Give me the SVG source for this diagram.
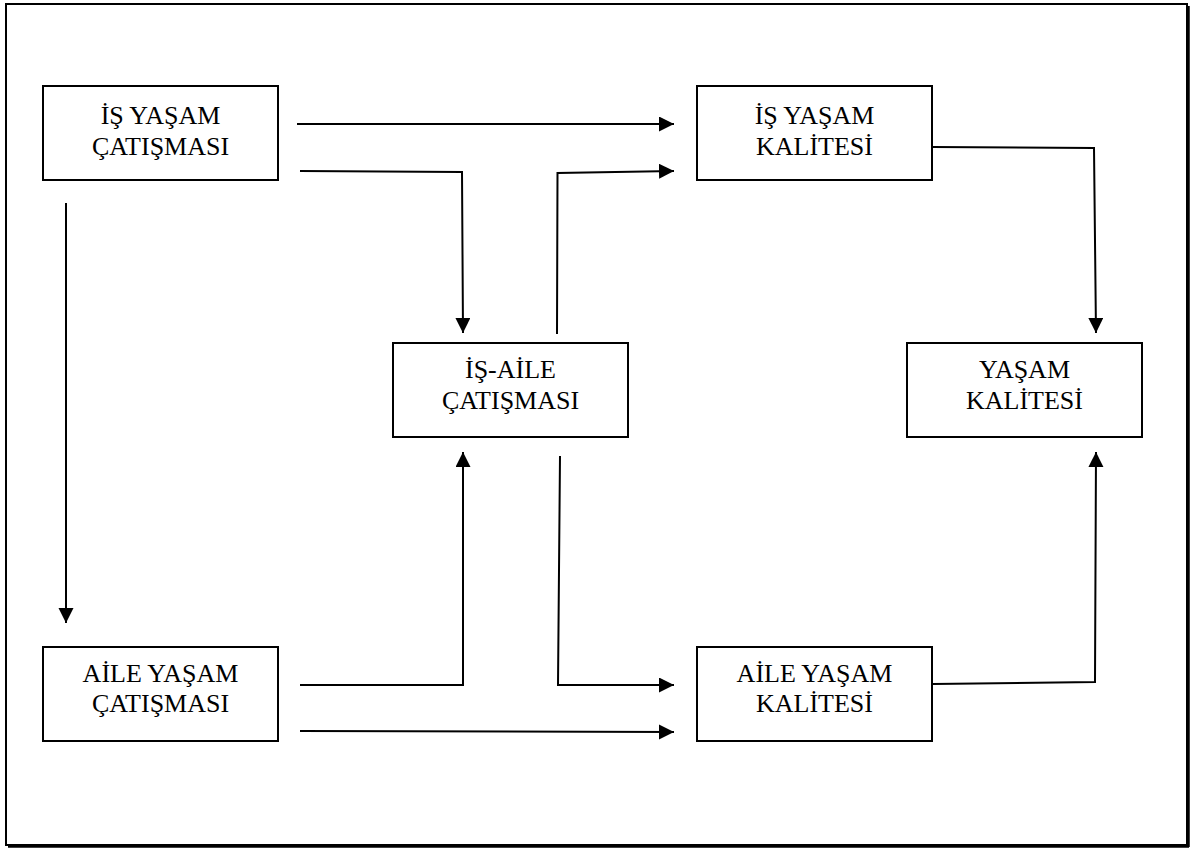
<svg xmlns="http://www.w3.org/2000/svg" width="1200" height="848" viewBox="0 0 1200 848">
<defs>
<style>
.box{fill:#fff;stroke:#000;stroke-width:2}
.lbl{font-family:"Liberation Serif","Times New Roman",serif;font-size:26px;fill:#000;text-anchor:middle}
.con{fill:none;stroke:#000;stroke-width:2}
.frame{fill:none;stroke:#000;stroke-width:2}
</style>
<marker id="ah" markerUnits="userSpaceOnUse" markerWidth="16" markerHeight="16" refX="15" refY="7.5" orient="auto">
<path d="M0,0 L15,7.5 L0,15 z" fill="#000"/>
</marker>
</defs>
<rect width="1200" height="848" fill="#fff"/>
<g id="frame">
<rect class="frame" x="6" y="4" width="1181" height="841"/>
<line x1="1188" y1="6" x2="1188" y2="847" stroke="#000" stroke-width="3.5"/>
<line x1="8" y1="846" x2="1189" y2="846" stroke="#000" stroke-width="3.5"/>
</g>
<g id="connectors">
<line class="con" x1="297" y1="124" x2="674" y2="124" marker-end="url(#ah)"/>
<polyline class="con" points="300,171 462,172 463,333" marker-end="url(#ah)"/>
<polyline class="con" points="557,334 557.5,173 674,171" marker-end="url(#ah)"/>
<polyline class="con" points="932,147 1094,148 1096,333" marker-end="url(#ah)"/>
<line class="con" x1="66" y1="203" x2="66" y2="623" marker-end="url(#ah)"/>
<polyline class="con" points="300,685 463,685 463,452" marker-end="url(#ah)"/>
<polyline class="con" points="560,456 558,685 674,685" marker-end="url(#ah)"/>
<line class="con" x1="300" y1="731" x2="674" y2="732" marker-end="url(#ah)"/>
<polyline class="con" points="933,684 1095,682 1096,452" marker-end="url(#ah)"/>
</g>
<g id="is-yasam-catismasi">
<rect class="box" x="43" y="86" width="235" height="94"/>
<text class="lbl" x="160.5" y="124">İŞ YAŞAM</text>
<text class="lbl" x="160.5" y="155">ÇATIŞMASI</text>
</g>
<g id="is-yasam-kalitesi">
<rect class="box" x="697" y="86" width="235" height="94"/>
<text class="lbl" x="814.5" y="124">İŞ YAŞAM</text>
<text class="lbl" x="814.5" y="155">KALİTESİ</text>
</g>
<g id="is-aile-catismasi">
<rect class="box" x="393" y="343" width="235" height="94"/>
<text class="lbl" x="510.5" y="378">İŞ-AİLE</text>
<text class="lbl" x="510.5" y="409">ÇATIŞMASI</text>
</g>
<g id="yasam-kalitesi">
<rect class="box" x="907" y="343" width="235" height="94"/>
<text class="lbl" x="1024.5" y="378">YAŞAM</text>
<text class="lbl" x="1024.5" y="409">KALİTESİ</text>
</g>
<g id="aile-yasam-catismasi">
<rect class="box" x="43" y="647" width="235" height="94"/>
<text class="lbl" x="160.5" y="682">AİLE YAŞAM</text>
<text class="lbl" x="160.5" y="712">ÇATIŞMASI</text>
</g>
<g id="aile-yasam-kalitesi">
<rect class="box" x="697" y="647" width="235" height="94"/>
<text class="lbl" x="814.5" y="682">AİLE YAŞAM</text>
<text class="lbl" x="814.5" y="712">KALİTESİ</text>
</g>
</svg>
